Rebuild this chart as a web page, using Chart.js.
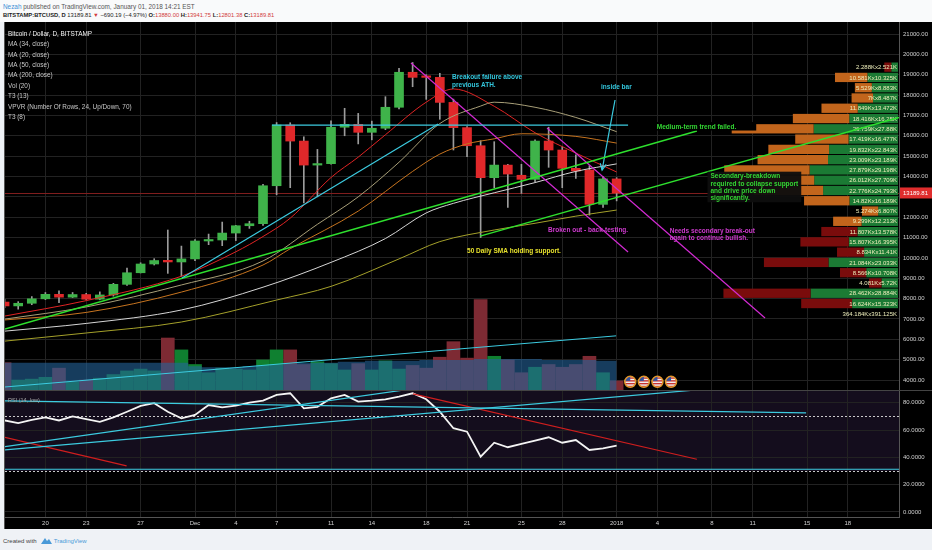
<!DOCTYPE html>
<html>
<head>
<meta charset="utf-8">
<title>BTCUSD daily</title>
<script src="https://cdn.jsdelivr.net/npm/chart.js@4.4.1/dist/chart.umd.min.js"></script>
<style>
html, body { margin: 0; padding: 0; }
body { width: 932px; height: 550px; position: relative; overflow: hidden; background: #eff2f6; font-family: "Liberation Sans", Arial, sans-serif; }
#head { position: absolute; left: 0; top: 0; width: 932px; height: 22px; background: #f9fafb; }
#head div { position: absolute; left: 3px; white-space: nowrap; }
#line1 { top: 3px; font-size: 6.4px; color: #555; }
#line2 { top: 12px; font-size: 5.8px; color: #222; }
#line1 .who { color: #3d8fd6; }
#line2 b { font-weight: bold; }
#line2 .red { color: #d23c3c; }
#panel { position: absolute; left: 4px; top: 22px; width: 928px; height: 507px; background: #000; border-left: 1px solid #555; box-sizing: border-box; }
canvas { position: absolute; left: 5px; }
#price { top: 22px; }
#rsi { top: 391px; }
#sep { position: absolute; left: 5px; top: 390px; width: 927px; height: 1px; background: #444; }
#foot { position: absolute; left: 3px; top: 537px; font-size: 6px; color: #444; white-space: nowrap; }
#foot .tv { color: #4a9ad8; }
#foot svg { vertical-align: middle; margin: 0 2px 0 4px; }
</style>
</head>
<body>
<div id="head">
  <div id="line1"><span class="who">Nezah</span> published on TradingView.com, January 01, 2018 14:21 EST</div>
  <div id="line2"><b>BITSTAMP:BTCUSD, D</b> 13189.81 <span class="red">&#9660;</span> &minus;690.19 (&minus;4.97%) <b>O:</b><span class="red">13880.00</span> <b>H:</b><span class="red">13941.75</span> <b>L:</b><span class="red">12801.38</span> <b>C:</b><span class="red">13189.81</span></div>
</div>
<div id="panel"></div>
<canvas id="price" width="927" height="369"></canvas>
<canvas id="rsi" width="927" height="137"></canvas>
<div id="sep"></div>
<div id="foot">Created with<svg width="11" height="8" viewBox="0 0 11 8"><path d="M0 7 L4 1 L6 4 L8 2 L11 7 Z" fill="#4a9ad8"/></svg><span class="tv">TradingView</span></div>

<script>
/* global Chart */

// ---- data (day 0 = 2017-11-17) ----
const dates = [
    "2017-11-17", "2017-11-18", "2017-11-19", "2017-11-20", "2017-11-21", "2017-11-22", "2017-11-23",
    "2017-11-24", "2017-11-25", "2017-11-26", "2017-11-27", "2017-11-28", "2017-11-29", "2017-11-30",
    "2017-12-01", "2017-12-02", "2017-12-03", "2017-12-04", "2017-12-05", "2017-12-06", "2017-12-07",
    "2017-12-08", "2017-12-09", "2017-12-10", "2017-12-11", "2017-12-12", "2017-12-13", "2017-12-14",
    "2017-12-15", "2017-12-16", "2017-12-17", "2017-12-18", "2017-12-19", "2017-12-20", "2017-12-21",
    "2017-12-22", "2017-12-23", "2017-12-24", "2017-12-25", "2017-12-26", "2017-12-27", "2017-12-28",
    "2017-12-29", "2017-12-30", "2017-12-31", "2018-01-01"];

const opens = [7830, 7640, 7770, 7990, 8210, 8070, 8200, 7970, 8180, 8700, 9270, 9700, 9880, 9800,
    9950, 10830, 10880, 11220, 11580, 11680, 13545, 16530, 15740, 14560, 14630, 16420, 16560, 16170,
    16370, 17400, 19120, 18900, 18870, 17640, 16400, 15510, 13940, 14560, 14060, 13860, 15740, 15300,
    14400, 14320, 12630, 13880];
const highs = [7960, 7850, 8100, 8300, 8380, 8300, 8260, 8330, 8750, 9500, 9760, 9960, 11370, 10580,
    10900, 11170, 11760, 11600, 11800, 13615, 16650, 16640, 15950, 15330, 16740, 17350, 17100, 16720,
    17920, 19310, 19600, 19000, 19070, 17800, 16450, 15760, 15710, 14600, 14600, 15800, 16420, 15460,
    15060, 14530, 14000, 13941.75];
const lows = [7560, 7480, 7700, 7950, 7800, 8050, 7950, 7940, 8120, 8650, 9260, 9650, 9240, 9100,
    9860, 10650, 10600, 10850, 11450, 11600, 13100, 13450, 12700, 13000, 14600, 16000, 15600, 15800,
    16300, 17320, 18410, 17790, 16810, 15300, 14970, 11000, 13450, 12480, 13170, 13740, 14450, 13450,
    13910, 12100, 12480, 12801.38];
const closes = [7640, 7770, 7990, 8210, 8070, 8200, 7970, 8180, 8700, 9270, 9700, 9870, 9800, 9950,
    10830, 10880, 11220, 11580, 11680, 13545, 16530, 15740, 14560, 14630, 16420, 16560, 16170, 16370,
    17400, 19120, 18870, 18870, 17640, 16400, 15510, 13940, 14560, 14120, 13860, 15740, 15300, 14400,
    14270, 12630, 13880, 13189.81];

// volume (arbitrary units) and its 20-day average
const volumes = [31, 12, 13, 15, 25, 10, 12, 14, 18, 22, 24, 22, 58, 45, 29, 20, 25, 24, 23, 34,
    45, 45, 29, 32, 30, 23, 30, 23, 33, 24, 28, 25, 37, 54, 36, 100, 38, 34, 20, 26, 29, 26, 29, 38, 20, 11];
const volumeAvg = [31, 31, 31, 31, 31, 31, 31, 31, 31, 31, 31, 31, 31, 31, 27, 26, 26, 26, 27, 28,
    29, 30, 31, 31, 31, 32, 32, 33, 33, 33, 33, 34, 34, 34, 34, 35, 35, 35, 35, 35, 34, 34, 34, 34, 33, 33];

const rsiValues = [67, 65, 67.5, 69.3, 67, 70, 68, 66, 69.3, 73.4, 77.6, 79.6, 73.4, 68.6, 71, 78.3,
    76.6, 77.8, 80, 81.5, 85.7, 86.9, 75.9, 77, 83.2, 85.7, 80.8, 81.5, 82.5, 84.4, 86.9, 82.5, 73.4,
    61.3, 58.8, 40.5, 50.7, 47.4, 49.8, 52.2, 54.7, 50.7, 52.7, 45.4, 46.6, 48.5];

// moving averages, [day, price] samples
const maRed = [[0, 7140], [6, 7900], [13, 9100], [17, 10300], [19, 11050], [21, 11950], [24, 13950],
    [26, 14950], [28, 16050], [31, 17650], [33, 18300], [36, 17450], [39, 16150], [42, 15150], [45, 14220]];
const maTan = [[0, 6990], [6, 7590], [13, 8670], [19, 9850], [23, 11650], [26, 13000], [29, 14700],
    [32, 16600], [35, 17460], [36, 17650], [39, 17400], [42, 16900], [45, 16200]];
const maOrange = [[0, 6950], [6, 7320], [13, 8320], [19, 9650], [21, 10450], [26, 12300], [30, 14250],
    [32, 15100], [34, 15600], [36, 15850], [38, 16100], [42, 15970], [45, 15640]];
const maWhite = [[0, 6400], [6, 6780], [13, 7440], [19, 8560], [24, 9780], [28, 10950], [31, 12210],
    [33, 12680], [36, 13200], [39, 13700], [42, 14250], [45, 14620]];
const maOlive = [[0, 5910], [6, 6310], [13, 6850], [20, 7930], [24, 8600], [29, 9950], [32, 10800],
    [36, 11370], [39, 11700], [42, 12050], [45, 12350]];

// drawn trend lines, [day1, value1, day2, value2]
const cyanLines = [[19.66, 16528, 45.84, 16528], [13.04, 9010, 31.87, 16577]];
const greenLines = [[0.03, 6504, 50.9, 16233], [34.96, 11070, 65.76, 16900]];
const magentaLines = [[29.88, 19575, 45.84, 10287], [39.88, 16381, 55.91, 7044]];
const arrowLine = [44.88, 17757, 43.93, 14317];
const volumeLine = [0.03, 4.4, 44.96, 60.4];
const rsiCyanLines = [[0.03, 81.3, 58.93, 72.5], [0.03, 47.8, 29.37, 89.3], [0.03, 45.4, 50.8, 89.3], [0, 31.3, 65.76, 31.3]];
const rsiRedLines = [[0.03, 54.7, 8.97, 33.7], [30.03, 86.4, 50.9, 38.6]];

// volume profile, 24 rows from the top of the range down (K)
const vpFirst = [2.288, 10.581, 5.529, 7, 11.849, 18.416, 26.759, 17.419, 19.832, 23.009, 27.879, 26.012,
    22.776, 14.82, 5.274, 9.299, 11.807, 15.807, 8.834, 21.084, 8.566, 4.081, 28.462, 16.624];
const vpSecond = [2.521, 10.325, 8.883, 8.487, 13.472, 16.25, 27.88, 16.477, 22.843, 23.189, 29.198, 27.709,
    24.793, 16.189, 6.807, 12.213, 13.578, 16.395, 11.41, 23.033, 10.708, 5.72, 28.884, 15.323];
const vpValueArea = [0, 1, 1, 1, 1, 1, 1, 1, 1, 1, 1, 1, 1, 1, 1, 1, 0, 0, 0, 0, 0, 0, 0, 0];
const vpTotals = ["364.184K", "391.125K"];

const eventDays = [46, 47, 48, 49];

const tickDays = [3, 6, 10, 14, 17, 20, 24, 27, 31, 34, 38, 41, 45, 48, 52, 55, 59, 62];
const tickLabels = ["20", "23", "27", "Dec", "4", "7", "11", "14", "18", "21", "25", "28", "2018", "4", "8", "11", "15", "18"];
const priceTicks = [4000, 5000, 6000, 7000, 8000, 9000, 10000, 11000, 12000, 13000, 14000, 15000,
    16000, 17000, 18000, 19000, 20000, 21000];
const rsiTicks = [0, 20, 40, 60, 80];
const rsiBands = [70, 30];

const legendLines = ["Bitcoin / Dollar, D, BITSTAMP", "MA (34, close)", "MA (20, close)", "MA (50, close)",
    "MA (200, close)", "Vol (20)", "T3 (13)", "VPVR (Number Of Rows, 24, Up/Down, 70)", "T3 (8)"];

// ---- look ----
const SANS = "\"Liberation Sans\", Arial, sans-serif",
    GRID = "#222222",
    AXIS_TEXT = "#d0d0d0",
    UP = "#3fb34a",
    DOWN = "#e0282a",
    WICK = "#9c9c9c",
    CYAN = "#3ccbe0",
    GREEN = "#2ee02e",
    MAGENTA = "#d22ad2",
    RSI_RED = "#d01e1e",
    VOL_UP = "#0f8030",
    VOL_DOWN = "#7d2a33",
    VOL_AVG = "rgba(36,100,155,0.6)",
    VP_GREEN = "#1b7a34",
    VP_ORANGE = "#c2651c",
    VP_RED = "#7a0c0c",
    VP_TEXT = "#eeeebb",
    X_MIN = 0.03,
    X_MAX = 65.76,
    AXIS_WIDTH = 33,
    EVENT_LEVEL = 10;

const NOTES = [
    { day: 32.9, price: 18890, color: "#33c6dc", gap: 8, lines: ["Breakout failure above", "previous ATH."] },
    { day: 43.85, price: 18400, color: "#33c6dc", lines: ["inside bar"] },
    { day: 47.95, price: 16430, color: "#33d633", lines: ["Medium-term trend failed."],
        box: { left: 4, right: 20, top: 5, bottom: 3.5, fill: "#000" } },
    { day: 51.9, price: 13990, color: "#33d633", gap: 7.2,
        lines: ["Secondary-breakdown", "required to collapse support", "and drive price down", "significantly."],
        box: { left: 3, right: 3, top: 5, bottom: 4, fill: "rgba(14,14,14,0.96)" } },
    { day: 39.95, price: 11370, color: "#cf3acf", lines: ["Broken out - back-testing."] },
    { day: 48.9, price: 11330, color: "#cf3acf", gap: 7, lines: ["Needs secondary break-out", "again to continue bullish."] },
    { day: 34.0, price: 10340, color: "#e6e02c", lines: ["50 Daily SMA holding support."] },
];

Chart.defaults.font.family = SANS;

function segment(line, color, axis, order, width) {
    return {
        type: "line",
        data: [{ x: line[0], y: line[1] }, { x: line[2], y: line[3] }],
        borderColor: color,
        borderWidth: width || 1.2,
        pointRadius: 0,
        yAxisID: axis,
        order: order,
    };
}

function curve(points, color) {
    return {
        type: "line",
        data: points.map(p => ({ x: p[0], y: p[1] })),
        borderColor: color,
        borderWidth: 1,
        pointRadius: 0,
        cubicInterpolationMode: "monotone",
        yAxisID: "y",
        order: 3,
    };
}

function dayAxis(showLabels) {
    return {
        type: "linear",
        min: X_MIN,
        max: X_MAX,
        offset: false,
        grid: { color: GRID, drawTicks: false, offset: false },
        border: { display: showLabels, color: "#555" },
        ticks: {
            display: showLabels,
            autoSkip: false,
            maxRotation: 0,
            padding: 3,
            color: AXIS_TEXT,
            font: { size: 6 },
            callback: v => tickLabels[tickDays.indexOf(v)],
        },
        afterBuildTicks: s => { s.ticks = tickDays.map(v => ({ value: v })); },
        afterFit: s => { s.height = showLabels ? 11 : 0; s.paddingLeft = 0; s.paddingRight = 0; },
    };
}

function valueAxis(min, max, ticks, digits) {
    return {
        position: "right",
        min: min,
        max: max,
        grid: { color: GRID, drawTicks: false },
        border: { color: "#555" },
        ticks: { color: AXIS_TEXT, font: { size: 6 }, padding: 4, callback: v => v.toFixed(digits) },
        afterBuildTicks: s => { s.ticks = ticks.map(v => ({ value: v })); },
        afterFit: s => { s.width = AXIS_WIDTH; s.paddingTop = 0; s.paddingBottom = 0; },
    };
}

// an x axis that takes no room and draws nothing, used to lay out the volume profile
const profileAxis = {
    type: "linear",
    axis: "x",
    position: "bottom",
    min: 0,
    max: 292,
    reverse: true,
    offset: false,
    grid: { display: false, drawTicks: false, offset: false },
    border: { display: false },
    ticks: { display: false },
    afterFit: s => { s.height = 0; s.paddingLeft = 0; s.paddingRight = 0; },
};

const candleColors = closes.map((c, i) => (c >= opens[i] ? UP : DOWN));
const volumeColors = closes.map((c, i) => (c >= opens[i] ? VOL_UP : VOL_DOWN));

const pricePlugin = {
    id: "pricePane",
    beforeDraw(chart) {
        const ctx = chart.ctx;
        ctx.save();
        ctx.fillStyle = "#000";
        ctx.fillRect(0, 0, chart.width, chart.height);
        ctx.restore();
    },
    beforeDatasetsDraw(chart) {
        const { ctx, chartArea, scales: { y, xvp } } = chart;
        const last = closes[closes.length - 1];
        ctx.save();
        // last price line
        ctx.strokeStyle = "#7f1d1d";
        ctx.lineWidth = 1;
        ctx.beginPath();
        ctx.moveTo(chartArea.left, Math.round(y.getPixelForValue(last)) + 0.5);
        ctx.lineTo(chartArea.right, Math.round(y.getPixelForValue(last)) + 0.5);
        ctx.stroke();
        // volume profile
        const top = Math.max(...highs), bottom = Math.min(...lows);
        const step = (top - bottom) / vpFirst.length;
        const right = xvp.getPixelForValue(0);
        ctx.font = "6px " + SANS;
        ctx.textAlign = "right";
        ctx.textBaseline = "middle";
        vpFirst.forEach((first, r) => {
            const second = vpSecond[r];
            const y0 = y.getPixelForValue(top - r * step);
            const y1 = y.getPixelForValue(top - (r + 1) * step);
            const xMid = xvp.getPixelForValue(second);
            const xEnd = xvp.getPixelForValue(second + first);
            ctx.fillStyle = VP_GREEN;
            ctx.fillRect(xMid, y0, right - xMid - 1, y1 - y0 - 1);
            ctx.fillStyle = vpValueArea[r] ? VP_ORANGE : VP_RED;
            ctx.fillRect(xEnd, y0, xMid - xEnd, y1 - y0 - 1);
            ctx.fillStyle = VP_TEXT;
            ctx.fillText(first + "Kx" + second + "K", right - 2, (y0 + y1) / 2);
        });
        ctx.fillText(vpTotals[0] + "x" + vpTotals[1], right - 2, y.getPixelForValue(bottom - step / 2));
        ctx.restore();
    },
    afterDatasetsDraw(chart) {
        const { ctx, scales: { x, y, yv } } = chart;
        ctx.save();
        // arrow head of the "inside bar" arrow
        const ax = x.getPixelForValue(arrowLine[0]), ay = y.getPixelForValue(arrowLine[1]);
        const bx = x.getPixelForValue(arrowLine[2]), by = y.getPixelForValue(arrowLine[3]);
        const ang = Math.atan2(by - ay, bx - ax);
        ctx.strokeStyle = CYAN;
        ctx.lineWidth = 1.2;
        ctx.beginPath();
        ctx.moveTo(bx - 7 * Math.cos(ang - 0.45), by - 7 * Math.sin(ang - 0.45));
        ctx.lineTo(bx, by);
        ctx.lineTo(bx - 7 * Math.cos(ang + 0.45), by - 7 * Math.sin(ang + 0.45));
        ctx.stroke();
        // text notes
        ctx.font = "bold 6.5px " + SANS;
        ctx.textAlign = "left";
        ctx.textBaseline = "middle";
        NOTES.forEach(n => {
            const px = x.getPixelForValue(n.day), py = y.getPixelForValue(n.price);
            const gap = n.gap || 8;
            if (n.box) {
                const w = Math.max(...n.lines.map(t => ctx.measureText(t).width));
                ctx.fillStyle = n.box.fill;
                ctx.fillRect(px - n.box.left, py - n.box.top, w + n.box.left + n.box.right,
                    (n.lines.length - 1) * gap + n.box.top + n.box.bottom);
            }
            ctx.fillStyle = n.color;
            n.lines.forEach((t, k) => ctx.fillText(t, px, py + k * gap));
        });
        // economic event flags
        eventDays.forEach(d => {
            const px = x.getPixelForValue(d), py = yv.getPixelForValue(EVENT_LEVEL);
            ctx.save();
            ctx.beginPath();
            ctx.arc(px, py, 5.5, 0, Math.PI * 2);
            ctx.fillStyle = "#f2f2f2";
            ctx.fill();
            ctx.clip();
            ctx.fillStyle = "#c83232";
            for (let k = 0; k < 4; k++) {
                ctx.fillRect(px - 6, py - 4.5 + k * 2.8, 12, 1.4);
            }
            ctx.fillStyle = "#34509c";
            ctx.fillRect(px - 6, py - 6, 6, 5);
            ctx.restore();
            ctx.beginPath();
            ctx.arc(px, py, 5.5, 0, Math.PI * 2);
            ctx.strokeStyle = "#e0962a";
            ctx.lineWidth = 1.5;
            ctx.stroke();
        });
        ctx.restore();
    },
    afterDraw(chart) {
        const { ctx, chartArea, scales: { y } } = chart;
        const last = closes[closes.length - 1];
        const py = y.getPixelForValue(last);
        ctx.save();
        ctx.fillStyle = "#e02d2d";
        ctx.fillRect(chartArea.right + 1, py - 5.5, AXIS_WIDTH, 11);
        ctx.fillStyle = "#fff";
        ctx.font = "6px " + SANS;
        ctx.textBaseline = "middle";
        ctx.fillText(last.toFixed(2), chartArea.right + 4, py);
        ctx.font = "6.4px " + SANS;
        legendLines.forEach((t, k) => {
            ctx.fillStyle = k === 0 ? "#f0f0f0" : "#c8c8c8";
            ctx.fillText(t, chartArea.left + 3, 12 + k * 10.4);
        });
        ctx.restore();
    },
};

const rsiPlugin = {
    id: "rsiPane",
    beforeDraw(chart) {
        const { ctx, chartArea, scales: { y } } = chart;
        ctx.save();
        ctx.fillStyle = "#000";
        ctx.fillRect(0, 0, chart.width, chart.height);
        ctx.fillStyle = "#140d1d";
        ctx.fillRect(chartArea.left, chartArea.top, chartArea.right - chartArea.left,
            y.getPixelForValue(rsiBands[1]) - chartArea.top);
        ctx.restore();
    },
    beforeDatasetsDraw(chart) {
        const { ctx, chartArea, scales: { y } } = chart;
        ctx.save();
        ctx.strokeStyle = "rgba(235,235,235,0.85)";
        ctx.lineWidth = 1;
        ctx.setLineDash([2, 2]);
        rsiBands.forEach(b => {
            const py = Math.round(y.getPixelForValue(b)) + 0.5;
            ctx.beginPath();
            ctx.moveTo(chartArea.left, py);
            ctx.lineTo(chartArea.right, py);
            ctx.stroke();
        });
        ctx.restore();
    },
    afterDraw(chart) {
        const { ctx, chartArea } = chart;
        ctx.save();
        ctx.fillStyle = "#a8a8a8";
        ctx.font = "5.5px " + SANS;
        ctx.textBaseline = "middle";
        ctx.fillText("RSI (14, low)", chartArea.left + 3, 9);
        ctx.restore();
    },
};

const priceDatasets = [
    {
        type: "bar",
        data: dates.map((d, i) => ({ x: i, y: [lows[i], highs[i]] })),
        backgroundColor: WICK,
        barThickness: 1,
        grouped: false,
        yAxisID: "y",
        order: 5,
    },
    {
        type: "bar",
        data: dates.map((d, i) => ({ x: i, y: [opens[i], closes[i]] })),
        backgroundColor: candleColors,
        barThickness: 9,
        minBarLength: 1.5,
        grouped: false,
        yAxisID: "y",
        order: 4,
    },
    curve(maOlive, "#a4a02a"),
    curve(maWhite, "#d5d5d5"),
    curve(maOrange, "#c7741f"),
    curve(maTan, "#a89f78"),
    curve(maRed, "#e02424"),
    {
        type: "bar",
        data: dates.map((d, i) => ({ x: i, y: volumes[i] })),
        backgroundColor: volumeColors,
        barThickness: 13,
        grouped: false,
        yAxisID: "yv",
        order: 9,
    },
    {
        type: "line",
        data: dates.map((d, i) => ({ x: i, y: volumeAvg[i] })),
        borderWidth: 0,
        pointRadius: 0,
        stepped: "middle",
        fill: "origin",
        backgroundColor: VOL_AVG,
        yAxisID: "yv",
        order: 8,
    },
    segment(volumeLine, CYAN, "yv", 7, 1),
];
cyanLines.forEach(l => priceDatasets.push(segment(l, CYAN, "y", 1)));
greenLines.forEach(l => priceDatasets.push(segment(l, GREEN, "y", 1, 1.4)));
magentaLines.forEach(l => priceDatasets.push(segment(l, MAGENTA, "y", 1)));
priceDatasets.push(segment(arrowLine, CYAN, "y", 1));

new Chart(document.getElementById("price").getContext("2d"), {
    type: "bar",
    data: { datasets: priceDatasets },
    options: {
        responsive: false,
        animation: false,
        layout: { padding: 0 },
        plugins: { legend: { display: false }, tooltip: { enabled: false } },
        scales: {
            x: dayAxis(false),
            y: valueAxis(3460, 21590, priceTicks, 2),
            yv: { display: false, min: 0, max: 404 },
            xvp: profileAxis,
        },
    },
    plugins: [pricePlugin],
});

const rsiDatasets = [
    {
        type: "line",
        data: rsiValues.map((v, i) => ({ x: i, y: v })),
        borderColor: "#f4f4f4",
        borderWidth: 1.8,
        pointRadius: 0,
        yAxisID: "y",
        order: 2,
    },
];
rsiCyanLines.forEach(l => rsiDatasets.push(segment(l, CYAN, "y", 1)));
rsiRedLines.forEach(l => rsiDatasets.push(segment(l, RSI_RED, "y", 1)));

new Chart(document.getElementById("rsi").getContext("2d"), {
    type: "line",
    data: { datasets: rsiDatasets },
    options: {
        responsive: false,
        animation: false,
        layout: { padding: 0 },
        plugins: { legend: { display: false }, tooltip: { enabled: false } },
        scales: {
            x: dayAxis(true),
            y: valueAxis(-3.66, 88.56, rsiTicks, 4),
        },
    },
    plugins: [rsiPlugin],
});
</script>
</body>
</html>
